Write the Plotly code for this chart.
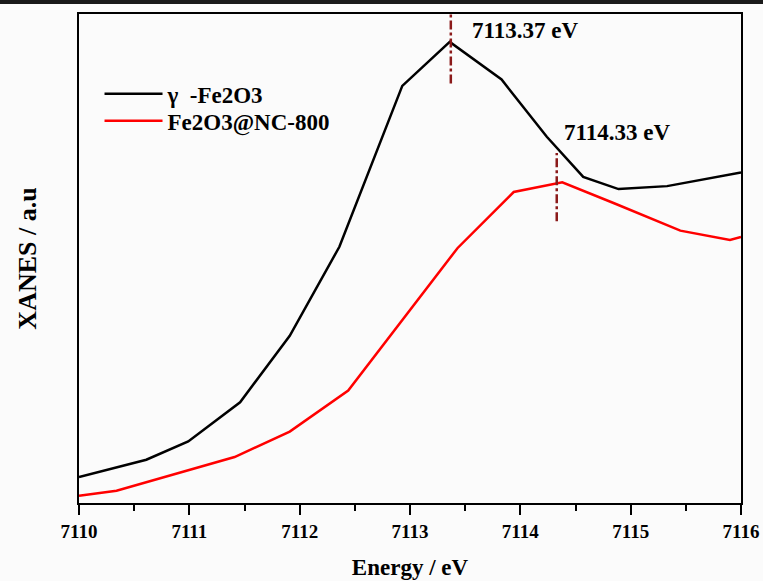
import plotly.graph_objects as go

# Data (arbitrary XANES units)
energy_gamma = [7110.0, 7110.3, 7110.61, 7110.99, 7111.46, 7111.91, 7112.36, 7112.93,
                7113.36, 7113.83, 7114.24, 7114.57, 7114.89, 7115.33, 7116.0]
xanes_gamma = [0.053, 0.070, 0.0885, 0.126, 0.206, 0.342, 0.524, 0.853,
               0.943, 0.866, 0.749, 0.667, 0.642, 0.648, 0.676]

energy_nc = [7110.0, 7110.34, 7111.41, 7111.91, 7112.44, 7113.43, 7113.94,
             7114.38, 7114.85, 7115.45, 7115.90, 7116.0]
xanes_nc = [0.015, 0.025, 0.094, 0.146, 0.230, 0.521, 0.636,
            0.656, 0.613, 0.557, 0.538, 0.544]

peak_energies = [7113.37, 7114.33]
peak_labels = ["7113.37 eV", "7114.33 eV"]
marker_y0 = [0.858, 0.576]
marker_y1 = [1.0, 0.716]
label_x = [7113.545, 7114.38]
label_y = [0.967, 0.757]

tick_vals = [7110, 7111, 7112, 7113, 7114, 7115, 7116]
tick_text = ["7110", "7111", "7112", "7113", "7114", "7115", "7116"]

FONT = "Liberation Serif"

fig = go.Figure()
fig.add_trace(go.Scatter(x=energy_gamma, y=xanes_gamma, mode="lines",
                         name="<b>γ\u00a0\u00a0-Fe2O3</b>", legend="legend",
                         line=dict(color="black", width=2.5)))
fig.add_trace(go.Scatter(x=energy_nc, y=xanes_nc, mode="lines",
                         name="<b>Fe2O3@NC-800</b>", legend="legend2",
                         line=dict(color="#ff0000", width=2.5)))

for e, y0, y1, lx, ly, lab in zip(peak_energies, marker_y0, marker_y1, label_x, label_y, peak_labels):
    fig.add_shape(type="line", x0=e, x1=e, y0=y0, y1=y1, xref="x", yref="y",
                  line=dict(color="#8b1a1a", width=2.5, dash="dashdot"))
    fig.add_annotation(x=lx, y=ly, xref="x", yref="y", text="<b>" + lab + "</b>",
                       showarrow=False, xanchor="left", yanchor="middle",
                       font=dict(family=FONT, size=23, color="black"))

# dark band at the very top of the image
fig.add_shape(type="rect", xref="paper", yref="paper", x0=-0.2, x1=1.1,
              y0=1.0204, y1=1.04, line=dict(width=0), fillcolor="#1a1a1a", layer="above")

legend_style = dict(xanchor="left", yanchor="middle", bgcolor="rgba(0,0,0,0)",
                    font=dict(family=FONT, size=23, color="black"), itemwidth=58)

fig.update_layout(
    width=763, height=581,
    margin=dict(l=79, r=22, t=14, b=78),
    paper_bgcolor="#fbfbfb", plot_bgcolor="#fbfbfb",
    font=dict(family=FONT, color="black"),
    showlegend=True,
    legend=dict(x=0.031, y=0.8366, **legend_style),
    legend2=dict(x=0.031, y=0.7814, **legend_style),
    xaxis=dict(range=[7110, 7116], tickvals=tick_vals, ticktext=["<b>" + t + "</b>" for t in tick_text],
               ticks="outside", ticklen=10, tickwidth=2, tickcolor="black",
               minor=dict(dtick=0.5, ticks="outside", ticklen=6, tickwidth=2, tickcolor="black"),
               showline=True, linecolor="black", linewidth=2, mirror=True,
               showgrid=False, zeroline=False, automargin=False,
               tickfont=dict(family=FONT, size=19, color="black"),
               title=dict(text="<b>Energy / eV</b>", font=dict(family=FONT, size=23, color="black"),
                          standoff=18)),
    yaxis=dict(range=[0, 1.0], showticklabels=False, ticks="",
               showline=True, linecolor="black", linewidth=2, mirror=True,
               showgrid=False, zeroline=False, automargin=False,
               title=dict(text="<b>XANES / a.u</b>", font=dict(family=FONT, size=26, color="black"),
                          standoff=33)),
)

fig.write_html("out.html", config={"displayModeBar": False},
               post_script="document.body.style.margin='0';")
